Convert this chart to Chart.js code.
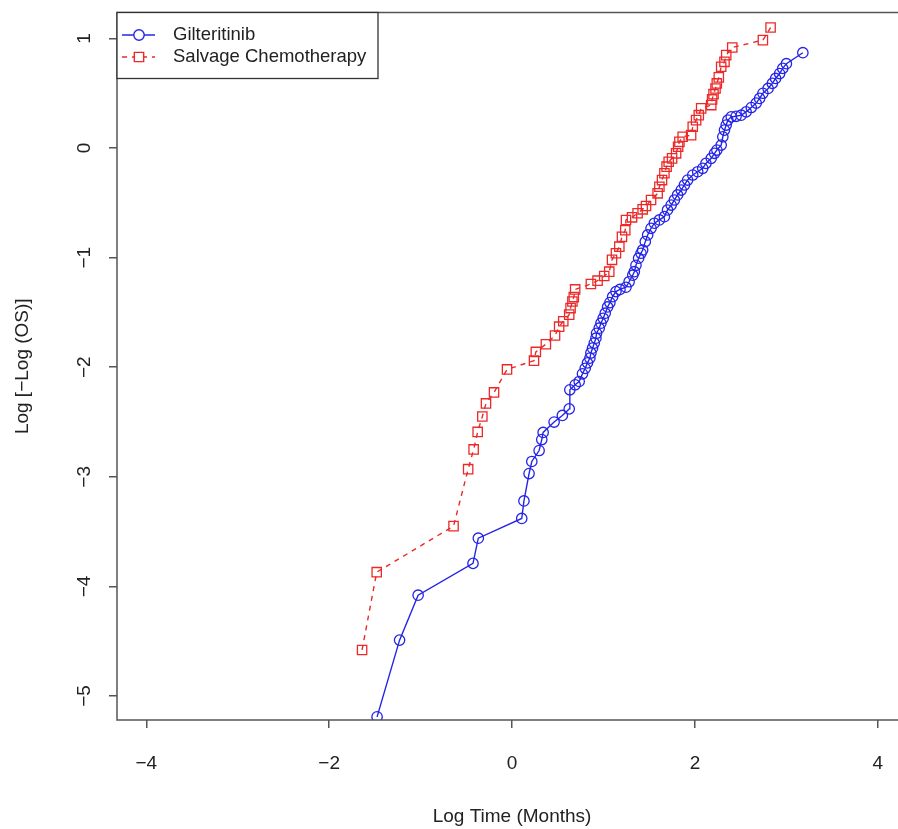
<!DOCTYPE html>
<html>
<head>
<meta charset="utf-8">
<script src="https://cdn.jsdelivr.net/npm/chart.js@4"></script>
<style>
  html, body { margin: 0; padding: 0; background: #fff; overflow: hidden; }
  #wrap { width: 915px; height: 829px; }
</style>
</head>
<body>
<div id="wrap"><canvas id="loglogChart" width="915" height="829"></canvas></div>
<script>
// Gilteritinib: log time vs log(-log(OS))
var gilX = [-1.476, -1.23, -1.027, -0.427, -0.369, 0.106, 0.13, 0.186, 0.216, 0.296, 0.325, 0.34,
    0.46, 0.55, 0.625, 0.632, 0.69, 0.734, 0.77, 0.80, 0.825, 0.851, 0.862, 0.88, 0.899, 0.917,
    0.924, 0.953, 0.972, 0.997, 1.019, 1.045, 1.07, 1.1, 1.136, 1.18, 1.246, 1.28, 1.32, 1.337,
    1.355, 1.384, 1.41, 1.428, 1.457, 1.483, 1.52, 1.556, 1.611, 1.666, 1.70, 1.74, 1.775, 1.81,
    1.85, 1.885, 1.92, 1.976, 2.03, 2.085, 2.12, 2.178, 2.214, 2.24, 2.287, 2.305, 2.323, 2.342,
    2.36, 2.397, 2.45, 2.506, 2.56, 2.616, 2.67, 2.707, 2.743, 2.80, 2.846, 2.882, 2.926, 2.96,
    3.0, 3.18];
var gilY = [-5.19, -4.49, -4.08, -3.79, -3.56, -3.38, -3.22, -2.97, -2.86, -2.76, -2.66, -2.595,
    -2.50, -2.44, -2.38, -2.206, -2.16, -2.13, -2.06, -2.01, -1.96, -1.917, -1.87, -1.826, -1.78, -1.735,
    -1.69, -1.644, -1.598, -1.553, -1.507, -1.45, -1.41, -1.356, -1.31, -1.29, -1.27, -1.22, -1.16, -1.128,
    -1.07, -1.005, -0.96, -0.93, -0.854, -0.793, -0.732, -0.686, -0.656, -0.626, -0.565, -0.52, -0.474, -0.428,
    -0.383, -0.337, -0.292, -0.246, -0.216, -0.185, -0.14, -0.094, -0.048, -0.018, 0.027, 0.103, 0.164, 0.21,
    0.255, 0.285, 0.29, 0.30, 0.33, 0.37, 0.41, 0.453, 0.50, 0.544, 0.59, 0.635, 0.68, 0.727,
    0.77, 0.87];

// Salvage Chemotherapy
var chemoX = [-1.64, -1.48, -0.64, -0.48, -0.42, -0.376, -0.325, -0.285, -0.197, -0.055, 0.24, 0.26,
    0.37, 0.47, 0.515, 0.56, 0.625, 0.64, 0.66, 0.675, 0.69, 0.862, 0.935, 1.008, 1.063, 1.093,
    1.136, 1.173, 1.202, 1.238, 1.246, 1.312, 1.373, 1.428, 1.465, 1.52, 1.592, 1.611, 1.64, 1.666,
    1.69, 1.713, 1.75, 1.794, 1.816, 1.83, 1.866, 1.958, 1.976, 2.013, 2.042, 2.068, 2.178, 2.188,
    2.203, 2.225, 2.239, 2.261, 2.287, 2.323, 2.342, 2.408, 2.743, 2.827];
var chemoY = [-4.58, -3.87, -3.45, -2.93, -2.75, -2.59, -2.45, -2.33, -2.23, -2.02, -1.94, -1.86,
    -1.79, -1.71, -1.63, -1.58, -1.52, -1.46, -1.40, -1.36, -1.29, -1.24, -1.21, -1.167, -1.128, -1.02,
    -0.96, -0.90, -0.81, -0.75, -0.656, -0.632, -0.595, -0.559, -0.529, -0.474, -0.413, -0.353, -0.292, -0.23,
    -0.17, -0.125, -0.094, -0.048, 0.012, 0.057, 0.103, 0.118, 0.194, 0.255, 0.30, 0.362, 0.392, 0.444,
    0.492, 0.544, 0.59, 0.645, 0.742, 0.787, 0.848, 0.918, 0.985, 1.10];

var xTicks = [-4, -2, 0, 2, 4];
var yTicks = [-5, -4, -3, -2, -1, 0, 1];

var blue = '#2424e8';
var red = '#ec2828';
var axisColor = '#555555';
var textColor = '#222222';
var fontFamily = '"Liberation Sans", Arial, sans-serif';

function toPoints(xs, ys) {
    return xs.map(function(x, i) { return {x: x, y: ys[i]}; });
}

function minusLabel(v) {
    return v < 0 ? '\u2212' + Math.abs(v) : String(v);
}

// box round the plot region
var boxPlugin = {
    id: 'plotBox',
    afterDraw: function(chart) {
        var ctx = chart.ctx, a = chart.chartArea;
        ctx.save();
        ctx.strokeStyle = axisColor;
        ctx.lineWidth = 1.5;
        ctx.strokeRect(a.left, a.top, a.right - a.left, a.bottom - a.top);
        ctx.restore();
    }
};

// R style legend in the top left corner
var legendPlugin = {
    id: 'cornerLegend',
    afterDraw: function(chart) {
        var ctx = chart.ctx, a = chart.chartArea;
        var left = a.left, top = a.top, w = 261, h = 66;
        ctx.save();
        ctx.fillStyle = '#fff';
        ctx.fillRect(left, top, w, h);
        ctx.strokeStyle = '#333';
        ctx.lineWidth = 1.3;
        ctx.strokeRect(left, top, w, h);
        chart.data.datasets.forEach(function(ds, i) {
            var y = top + 22.5 + i * 22;
            ctx.strokeStyle = ds.borderColor;
            ctx.lineWidth = ds.borderWidth;
            ctx.setLineDash(ds.borderDash || []);
            ctx.beginPath();
            ctx.moveTo(left + 5, y);
            ctx.lineTo(left + 38, y);
            ctx.stroke();
            ctx.setLineDash([]);
            ctx.fillStyle = '#fff';
            Chart.helpers.drawPoint(ctx, {
                pointStyle: ds.pointStyle, radius: ds.pointRadius, borderWidth: ds.pointBorderWidth
            }, left + 22, y);
            ctx.fillStyle = textColor;
            ctx.font = '18.5px ' + fontFamily;
            ctx.textBaseline = 'middle';
            ctx.textAlign = 'left';
            ctx.fillText(ds.label, left + 56, y);
        });
        ctx.restore();
    }
};

var ctx = document.getElementById('loglogChart').getContext('2d');
var chart = new Chart(ctx, {
    type: 'scatter',
    data: {
        datasets: [{
            label: 'Gilteritinib',
            data: toPoints(gilX, gilY),
            showLine: true,
            borderColor: blue,
            borderWidth: 1.4,
            pointStyle: 'circle',
            pointRadius: 5.2,
            pointBorderWidth: 1.3,
            pointBackgroundColor: 'rgba(0,0,0,0)',
            pointBorderColor: blue,
            clip: 0
        }, {
            label: 'Salvage Chemotherapy',
            data: toPoints(chemoX, chemoY),
            showLine: true,
            borderColor: red,
            borderWidth: 1.4,
            borderDash: [5, 5],
            pointStyle: 'rect',
            pointRadius: 6.6,
            pointBorderWidth: 1.3,
            pointBackgroundColor: 'rgba(0,0,0,0)',
            pointBorderColor: red,
            clip: 0
        }]
    },
    options: {
        responsive: false,
        animation: false,
        events: [],
        layout: { padding: { top: 12.5, left: 0, right: 0, bottom: 0 } },
        plugins: {
            legend: { display: false },
            tooltip: { enabled: false }
        },
        scales: {
            x: {
                type: 'linear',
                min: -4.32,
                max: 4.32,
                afterBuildTicks: function(s) { s.ticks = xTicks.map(function(v) { return {value: v}; }); },
                afterFit: function(s) {
                    s.height = 109;
                    s.paddingLeft = 0; s.paddingRight = 0;
                },
                ticks: {
                    callback: minusLabel,
                    color: textColor,
                    font: { family: fontFamily, size: 19 },
                    padding: 24,
                    maxRotation: 0
                },
                grid: { drawOnChartArea: false, drawTicks: true, tickLength: 8, color: axisColor, lineWidth: 1.5 },
                border: { display: false },
                title: {
                    display: true,
                    text: 'Log Time (Months)',
                    color: textColor,
                    font: { family: fontFamily, size: 19 },
                    padding: { top: 0, bottom: 1 }
                }
            },
            y: {
                type: 'linear',
                min: -5.219,
                max: 1.237,
                afterBuildTicks: function(s) { s.ticks = yTicks.map(function(v) { return {value: v}; }); },
                afterFit: function(s) {
                    s.width = 117;
                    s.paddingTop = 0; s.paddingBottom = 0;
                },
                ticks: {
                    callback: minusLabel,
                    color: textColor,
                    font: { family: fontFamily, size: 19 },
                    padding: 13,
                    minRotation: 90,
                    maxRotation: 90,
                    crossAlign: 'center'
                },
                grid: { drawOnChartArea: false, drawTicks: true, tickLength: 8, color: axisColor, lineWidth: 1.5 },
                border: { display: false },
                title: {
                    display: true,
                    text: 'Log [\u2212Log (OS)]',
                    color: textColor,
                    font: { family: fontFamily, size: 19 },
                    padding: { top: 11, bottom: 0 }
                }
            }
        }
    },
    plugins: [boxPlugin, legendPlugin]
});
</script>
</body>
</html>
